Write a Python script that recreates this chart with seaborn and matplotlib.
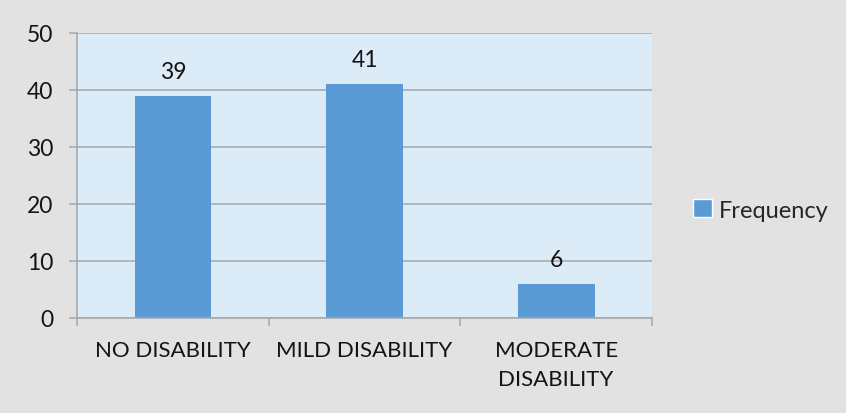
import pandas as pd
import matplotlib.pyplot as plt
import seaborn as sns
from matplotlib.patches import Patch

# Data

categories = ["NO DISABILITY", "MILD DISABILITY", "MODERATE\nDISABILITY"]
frequency = [39, 41, 6]
y_ticks = [0, 10, 20, 30, 40, 50]

df = pd.DataFrame({
    "Category": categories,
    "Frequency": frequency
})

# Style

sns.set_style("white")
plt.rcParams["font.family"] = ["Lato", "DejaVu Sans"]

bar_color = "#5b9bd5"
grid_color = "#a6a6a6"
text_color = "#141414"

fig = plt.figure(figsize=(8.46, 4.14), dpi=100)
fig.patch.set_facecolor("#e2e2e2")

ax = fig.add_axes([77 / 846, 1 - 319 / 414, 575 / 846, 285 / 414])
ax.set_facecolor("#dcebf8")

sns.barplot(
    data=df,
    x="Category",
    y="Frequency",
    color=bar_color,
    width=0.4,
    saturation=1,
    linewidth=0,
    ax=ax
)

ax.bar_label(
    ax.containers[0],
    labels=[str(v) for v in frequency],
    padding=10,
    fontsize=16.5,
    color=text_color
)

# Axes

ax.set_xlim(-0.5, len(categories) - 0.5)
ax.set_ylim(0, 50)
ax.set_yticks(y_ticks)
ax.set_xlabel("")
ax.set_ylabel("")

ax.yaxis.grid(True, color=grid_color, linewidth=1.1)
ax.set_axisbelow(True)

for side in ["top", "right"]:
    ax.spines[side].set_visible(False)
for side in ["left", "bottom"]:
    ax.spines[side].set_color(grid_color)
    ax.spines[side].set_linewidth(1.1)

ax.tick_params(
    axis="y",
    length=6,
    width=1.1,
    color=grid_color,
    pad=11,
    labelsize=16.5,
    labelcolor=text_color,
    left=True
)

ax.set_xticks(range(len(categories)))
ax.set_xticklabels(categories, linespacing=1.55)
ax.tick_params(
    axis="x",
    which="major",
    length=0,
    pad=16,
    labelsize=16,
    labelcolor=text_color
)

ax.set_xticks([i - 0.5 for i in range(len(categories) + 1)], minor=True)
ax.tick_params(
    axis="x",
    which="minor",
    length=6,
    width=1.1,
    color=grid_color,
    bottom=True
)

# Legend

fig.legend(
    handles=[Patch(facecolor=bar_color, label="Frequency")],
    loc="center left",
    bbox_to_anchor=(672 / 846, 1 - 211 / 414),
    frameon=False,
    fontsize=17,
    handlelength=0.8,
    handleheight=0.8,
    handletextpad=0.3
)

plt.savefig("out.png", dpi=100, facecolor=fig.get_facecolor())
